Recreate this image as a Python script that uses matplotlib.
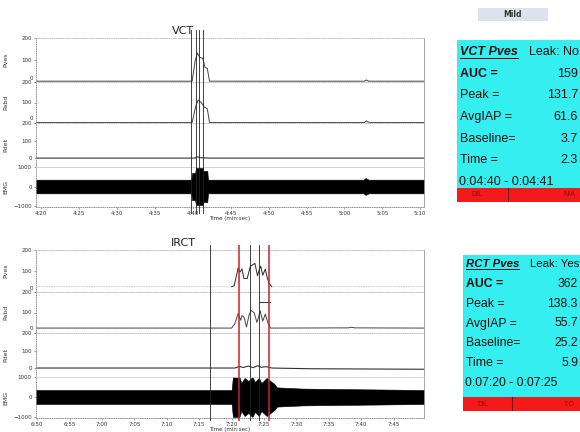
import matplotlib
matplotlib.use("Agg")
import matplotlib.pyplot as plt
import matplotlib.transforms as mtransforms
import numpy as np
from matplotlib import font_manager
from matplotlib.patches import Rectangle

W, H = 580, 432

# ---- VCT trace (seconds) ----
vct_pves_t = [259.3, 279.9, 280.3, 280.6, 280.9, 281.3, 281.6, 281.9, 282.2, 302.6, 302.9, 303.2, 310.5]
vct_pves_v = [3.7, 3.7, 95, 131.7, 112, 108, 66, 62, 3.7, 3.7, 9, 3.7, 3.7]
vct_pabd_t = [259.3, 279.9, 280.4, 280.7, 281.1, 281.5, 281.9, 282.2, 302.6, 302.9, 303.3, 310.5]
vct_pabd_v = [2, 2, 85, 112, 100, 78, 70, 2, 2, 10, 2, 2]
vct_pdet_t = [259.3, 280.3, 280.6, 281.0, 282.2, 310.5]
vct_pdet_v = [0.5, 0.5, 8, 3, 0.5, 0.5]
vct_emg_t = [259.3, 279.8, 279.9, 280.3, 280.4, 281.3, 281.4, 281.9, 282.0, 302.5, 302.8, 303.2, 310.5]
vct_emg_amp = [350, 350, 700, 700, 950, 950, 800, 800, 350, 350, 430, 350, 350]
vct_marks = [279.8, 280.4, 280.8, 281.3]
vct_ticks = [260, 265, 270, 275, 280, 285, 290, 295, 300, 305, 310]

# ---- IRCT trace (seconds) ----
irct_pves_t = [409.8, 440.0, 440.4, 441.0, 441.3, 441.6, 441.9, 442.4, 442.9, 443.6, 444.0,
               444.2, 444.5, 444.8, 445.2, 445.5, 445.8, 446.2, 469.7]
irct_pves_v = [25.2, 25.2, 30, 114, 95, 110, 64, 64, 123, 136, 77, 100, 123, 80, 109, 68, 40, 25.2, 25.2]
irct_pabd_t = [409.8, 440.0, 440.5, 441.0, 441.4, 441.6, 441.9, 442.3, 442.7, 443.0, 443.5, 443.9,
               444.1, 444.4, 444.8, 445.2, 445.6, 446.0, 458, 458.5, 459, 469.7]
irct_pabd_v = [24, 24, 45, 95, 62, 85, 78, 30, 88, 110, 98, 52, 70, 108, 58, 92, 50, 24, 25, 28, 25, 24]
irct_pdet_t = [409.8, 440.5, 441.2, 441.8, 442.6, 443.3, 444.0, 444.6, 445.3, 446.2, 452, 469.7]
irct_pdet_v = [1, 1, 10, 4, 12, 3, 14, 5, 9, 1, -3, -6]
irct_emg_t = [409.8, 440.0, 440.2, 441.2, 441.5, 442.0, 442.6, 443.2, 443.6, 444.2, 444.6,
              445.4, 446.0, 446.6, 447.0, 451, 469.7]
irct_emg_amp = [350, 350, 1000, 1000, 700, 950, 800, 1000, 750, 950, 700, 950, 800, 650, 480, 420, 350]
irct_marks = [436.7, 442.9, 444.2]
irct_red_marks = [441.1, 445.7]
irct_flag = (444.2, 446.0, 150)
irct_ticks = [410, 415, 420, 425, 430, 435, 440, 445, 450, 455, 460, 465]

# ---- summary boxes ----
stat_labels = ["AUC =", "Peak =", "AvgIAP =", "Baseline=", "Time ="]
vct_stats = [159, 131.7, 61.6, 3.7, 2.3]
irct_stats = [362, 138.3, 55.7, 25.2, 5.9]

CHANNELS = ["Pves", "Pabd", "Pdet", "EMG"]
YLIMS = [(0, 200), (0, 200), (-50, 200), (-1050, 1000)]
YTICKS = [[0, 100, 200], [0, 100, 200], [0, 100, 200], [-1000, 0, 1000]]


def pick_font(names):
    for n in names:
        try:
            font_manager.findfont(font_manager.FontProperties(family=n), fallback_to_default=False)
            return n
        except ValueError:
            pass
    return "DejaVu Sans"


BOX_FONT = pick_font(["Liberation Sans Narrow", "Liberation Sans", "DejaVu Sans"])
BOX_SCALE = 1.1 if BOX_FONT == "Liberation Sans Narrow" else 1.0


def px_rect(x0, y0, x1, y1):
    return [x0 / W, 1 - y1 / H, (x1 - x0) / W, (y1 - y0) / H]


def mmss(s):
    return f"{int(s // 60)}:{int(s % 60):02d}"


def trace_panel(fig, bounds, xlim, ticks, pves, pabd, pdet, emg, faint_pves=None):
    axes = []
    for i, (ya, yb) in enumerate(zip(bounds[:-1], bounds[1:])):
        ax = fig.add_axes(px_rect(36, ya, 424, yb))
        ax.set_xlim(*xlim)
        ax.set_ylim(*YLIMS[i])
        ax.set_yticks(YTICKS[i])
        ax.tick_params(axis="y", labelsize=4, length=1.5, width=0.4, pad=1.5,
                       colors="#555555", labelcolor="#333333")
        ax.spines["top"].set(color="#b5b5b5", linestyle=":", linewidth=0.6)
        ax.spines["left"].set(color="#888888", linestyle=":", linewidth=0.6)
        ax.spines["right"].set(color="#999999", linewidth=0.6)
        ax.spines["bottom"].set_visible(False)
        ax.set_ylabel(CHANNELS[i], fontsize=4.5, color="#333333")
        ax.yaxis.set_label_coords(-0.07, 0.5)
        if i < 2:
            # the zero label sits where the next channel's 200 is; nudge it up like the print
            lab0 = ax.get_yticklabels()[0]
            lab0.set_transform(lab0.get_transform() + mtransforms.ScaledTranslation(
                1.5 / 100, 4.5 / 100, fig.dpi_scale_trans))
        if i < 3:
            ax.set_xticks([])
        axes.append(ax)

    a_ves, a_abd, a_det, a_emg = axes
    if faint_pves is None:
        a_ves.plot(*pves, color="#444444", lw=0.7)
    else:
        t, v = np.asarray(pves[0]), np.asarray(pves[1])
        a_ves.plot(t, v, color="#c8c8c8", lw=0.6, ls=(0, (2, 1)))
        m = (t >= faint_pves[0]) & (t <= faint_pves[1])
        a_ves.plot(t[m], v[m], color="#333333", lw=0.7)
    a_abd.plot(*pabd, color="#444444", lw=0.7)
    a_det.plot(*pdet, color="#333333", lw=0.8)

    t, amp = np.asarray(emg[0]), np.asarray(emg[1])
    a_emg.fill_between(t, -amp, amp, color="black", lw=0.4, edgecolor="black")
    a_emg.spines["bottom"].set(visible=True, color="#888888", linestyle=":", linewidth=0.6)
    a_emg.spines["top"].set(color="#cccccc", linestyle="-", linewidth=0.6)
    a_emg.set_xticks(ticks)
    a_emg.set_xticklabels([mmss(s) for s in ticks])
    a_emg.set_xticks(np.arange(ticks[0], xlim[1], 1), minor=True)
    a_emg.tick_params(axis="x", which="major", labelsize=4, length=1.5, width=0.4, pad=1.5,
                      colors="#666666", labelcolor="#333333")
    a_emg.tick_params(axis="x", which="minor", length=1, width=0.3, colors="#888888")
    a_emg.set_xlabel("Time (min:sec)", fontsize=4, color="#333333", labelpad=0)
    return axes


def overlay(fig, y0, y1, xlim):
    ov = fig.add_axes(px_rect(36, y0, 424, y1))
    ov.set_xlim(*xlim)
    ov.set_ylim(0, 1)
    ov.axis("off")
    return ov


def info_box(fig, x0, y_top, y_split, y_bot, rows_y, title, leak, stats, span, bar_l, bar_r,
             div_x, fs, head_fs):
    ax = fig.add_axes(px_rect(x0, y_top, W, y_bot))
    ax.set_xlim(x0, W)
    ax.set_ylim(y_bot, y_top)
    ax.axis("off")
    ax.add_patch(Rectangle((x0, y_top), W - x0, y_split - y_top, color="#35eef0", lw=0))
    ax.add_patch(Rectangle((x0, y_split), W - x0, y_bot - y_split, color="#f21a1a", lw=0))
    ax.plot([div_x, div_x], [y_split, y_bot], color="#7a0a0a", lw=0.8)
    ys = np.linspace(rows_y[0], rows_y[1], 7)
    fs, head_fs = fs * BOX_SCALE, head_fs * BOX_SCALE
    ht = ax.text(x0 + 3, ys[0], title, fontsize=head_fs, fontweight="bold", fontstyle="italic",
                 family=BOX_FONT, va="center", color="#111111")
    fig.canvas.draw()
    bb = ht.get_window_extent().transformed(ax.transData.inverted())
    ax.plot([bb.x0, bb.x1], [bb.y0 + 0.3, bb.y0 + 0.3], color="#111111", lw=0.7)
    ax.text(W - 1, ys[0], f"Leak: {leak}", fontsize=head_fs, family=BOX_FONT, ha="right",
            va="center", color="#111111")
    for i, (lab, val) in enumerate(zip(stat_labels, stats)):
        ax.text(x0 + 3, ys[i + 1], lab, fontsize=fs, family=BOX_FONT, va="center",
                fontweight="bold" if i == 0 else "normal", color="#111111")
        ax.text(W - 2, ys[i + 1], f"{val:g}", fontsize=fs, family=BOX_FONT, ha="right",
                va="center", color="#111111")
    ax.text(x0 + 2, ys[6], f"{span[0]} - {span[1]}", fontsize=fs, family=BOX_FONT,
            va="center", color="#111111")
    ym = (y_split + y_bot) / 2
    ax.text(x0 + 14, ym, bar_l, fontsize=5, family=BOX_FONT, va="center", color="#8a0b0b")
    ax.text(W - 5, ym, bar_r, fontsize=5, family=BOX_FONT, ha="right", va="center", color="#8a0b0b")


fig = plt.figure(figsize=(W / 100, H / 100), dpi=100)
fig.patch.set_facecolor("white")

# top panel
xl_top = (259.3, 310.5)
trace_panel(fig, [38, 82, 123, 167, 207], xl_top, vct_ticks,
            (vct_pves_t, vct_pves_v), (vct_pabd_t, vct_pabd_v),
            (vct_pdet_t, vct_pdet_v), (vct_emg_t, vct_emg_amp))
ov = overlay(fig, 30, 214, xl_top)
for t in vct_marks:
    ov.axvline(t, color="#222222", lw=0.6)
fig.text(183 / W, 1 - 31 / H, "VCT", fontsize=8, ha="center", va="center", color="#222222")

# bottom panel
xl_bot = (409.8, 469.7)
axes_b = trace_panel(fig, [250, 292, 333, 377, 418], xl_bot, irct_ticks,
                     (irct_pves_t, irct_pves_v), (irct_pabd_t, irct_pabd_v),
                     (irct_pdet_t, irct_pdet_v), (irct_emg_t, irct_emg_amp),
                     faint_pves=(440.0, 446.2))
axes_b[1].plot(irct_flag[:2], [irct_flag[2]] * 2, color="#333333", lw=0.7)
ov = overlay(fig, 245, 421, xl_bot)
for t in irct_marks:
    ov.axvline(t, color="#222222", lw=0.6)
for t in irct_red_marks:
    ov.axvline(t, color="#c8232c", lw=1.1)
fig.text(183 / W, 1 - 243 / H, "IRCT", fontsize=8, ha="center", va="center", color="#222222")

# "Mild" tag
fig.add_artist(Rectangle((478 / W, 1 - 21 / H), 70 / W, 13 / H, transform=fig.transFigure,
                         color="#dde2ee", lw=0))
fig.text(513 / W, 1 - 14.5 / H, "Mild", fontsize=5.5, fontweight="bold", ha="center",
         va="center", color="#333333")

info_box(fig, 457, 40, 188, 202, (52, 182), "VCT Pves", "No", vct_stats,
         ("0:04:40", "0:04:41"), "DIL", "N/A", 508, 9, 9)
info_box(fig, 463, 255, 397, 411, (264, 383), "RCT Pves", "Yes", irct_stats,
         ("0:07:20", "0:07:25"), "DIL", "T.O", 512, 8.8, 8.2)

fig.savefig("out.png", dpi=100)
